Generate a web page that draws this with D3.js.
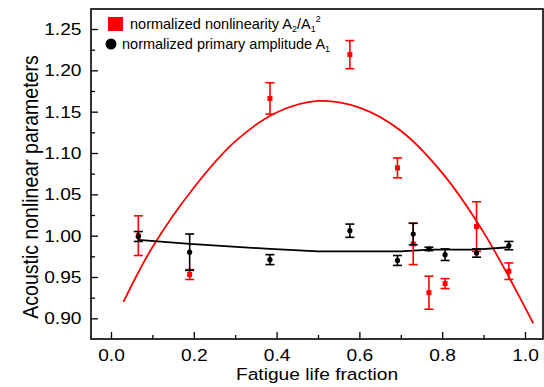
<!DOCTYPE html>
<html lang="en">
<head>
  <meta charset="UTF-8">
  <title>Acoustic nonlinear parameters vs fatigue life</title>
  <script src="https://d3js.org/d3.v7.min.js"></script>
  <style>
    body { margin: 0; background: #fff; }
    text { font-family: "Liberation Sans", Arial, sans-serif; fill: #000; }
  </style>
</head>
<body>
  <svg width="544" height="387"></svg>

  <script>
    // data
    const fraction = [0.066, 0.19, 0.384, 0.577, 0.692, 0.730, 0.768, 0.807, 0.883, 0.961];

    const nonlinearity    = [1.000, 0.953, 1.166, 1.219, 1.082, 0.990, 0.931, 0.942, 1.011, 0.957];
    const nonlinearityErr = [0.024, 0.006, 0.019, 0.017, 0.012, 0.025, 0.020, 0.006, 0.030, 0.010];

    const amplitude    = [0.999, 0.980, 0.971, 1.006, 0.970, 1.002, 0.984, 0.977, 0.979, 0.988];
    const amplitudeErr = [0.006, 0.022, 0.006, 0.008, 0.006, 0.013, 0.002, 0.007, 0.005, 0.005];

    // fitted curves, sampled from the drawn lines
    const redFitX = [0.03, 0.1, 0.2, 0.3, 0.4, 0.5, 0.6, 0.7, 0.8, 0.9, 1.02];
    const redFitY = [0.920, 0.986, 1.058, 1.114, 1.149, 1.163, 1.155, 1.127, 1.076, 1.004, 0.894];

    const blackFitX = [0.066, 0.19, 0.384, 0.5, 0.6, 0.7, 0.77, 0.88, 0.961];
    const blackFitY = [0.995, 0.990, 0.984, 0.981, 0.981, 0.981, 0.983, 0.983, 0.986];

    const xTicks = [0, 0.2, 0.4, 0.6, 0.8, 1.0];
    const yTicks = [0.90, 0.95, 1.00, 1.05, 1.10, 1.15, 1.20, 1.25];

    // the source image is a little stretched sideways
    const sx = 1.13;

    const svg = d3.select("svg");
    const margin = {top: 9, right: 1, bottom: 48, left: 91};
    const width = 544 - margin.left - margin.right,
          height = 387 - margin.top - margin.bottom;

    const g = svg.append("g").attr("transform", `translate(${margin.left},${margin.top})`);

    const x = d3.scaleLinear().domain([-0.0483, 1.0435]).range([0, width]);
    const y = d3.scaleLinear().domain([0.875, 1.2742]).range([height, 0]);

    // axes with inward ticks
    const xMinor = d3.range(0.1, 1.05, 0.2);
    const yMinor = d3.range(0.925, 1.27, 0.05);

    g.append("g")
      .attr("transform", `translate(0,${height})`)
      .call(d3.axisBottom(x).tickValues(xMinor).tickSize(-4).tickFormat(""))
      .call(a => a.select(".domain").remove());
    g.append("g")
      .attr("transform", `translate(0,${height})`)
      .call(d3.axisBottom(x).tickValues(xTicks).tickSize(-7).tickFormat(d3.format(".1f")))
      .call(a => a.select(".domain").remove())
      .call(a => a.selectAll("text")
        .attr("font-size", 17).attr("y", 22).attr("dy", null)
        .attr("transform", `scale(${sx},1)`));

    g.append("g")
      .call(d3.axisLeft(y).tickValues(yMinor).tickSize(-4).tickFormat(""))
      .call(a => a.select(".domain").remove());
    g.append("g")
      .call(d3.axisLeft(y).tickValues(yTicks).tickSize(-7).tickFormat(d3.format(".2f")))
      .call(a => a.select(".domain").remove())
      .call(a => a.selectAll("text")
        .attr("font-size", 17).attr("x", -9.5 / sx)
        .attr("transform", `scale(${sx},1)`));

    g.selectAll(".tick line").attr("stroke", "#000").attr("stroke-width", 1.3);

    // frame
    g.append("rect")
      .attr("width", width).attr("height", height)
      .attr("fill", "none").attr("stroke", "#000").attr("stroke-width", 1.6);

    // fit lines
    g.append("path")
      .datum(d3.zip(redFitX, redFitY))
      .attr("d", d3.line().x(d => x(d[0])).y(d => y(d[1])).curve(d3.curveCatmullRom))
      .attr("fill", "none").attr("stroke", "#f00").attr("stroke-width", 1.8);

    g.append("path")
      .datum(d3.zip(blackFitX, blackFitY))
      .attr("d", d3.line().x(d => x(d[0])).y(d => y(d[1])))
      .attr("fill", "none").attr("stroke", "#000").attr("stroke-width", 1.8);

    // error bars and markers
    function drawSeries(values, errs, color, shape) {
      const s = g.append("g");
      const pts = fraction.map((f, i) => ({f, v: values[i], e: errs[i]}));
      const bars = s.selectAll(".bar").data(pts).enter().append("g")
        .attr("stroke", color).attr("stroke-width", 1.6);
      bars.append("line")
        .attr("x1", d => x(d.f)).attr("x2", d => x(d.f))
        .attr("y1", d => y(d.v - d.e)).attr("y2", d => y(d.v + d.e));
      [-1, 1].forEach(sign => {
        bars.append("line")
          .attr("x1", d => x(d.f) - 4.5).attr("x2", d => x(d.f) + 4.5)
          .attr("y1", d => y(d.v + sign * d.e)).attr("y2", d => y(d.v + sign * d.e));
      });
      if (shape === "square") {
        s.selectAll(".mk").data(pts).enter().append("rect")
          .attr("x", d => x(d.f) - 2.5).attr("y", d => y(d.v) - 2.5)
          .attr("width", 5).attr("height", 5).attr("fill", color);
      } else {
        s.selectAll(".mk").data(pts).enter().append("circle")
          .attr("cx", d => x(d.f)).attr("cy", d => y(d.v))
          .attr("r", 2.6).attr("fill", color);
      }
    }
    drawSeries(nonlinearity, nonlinearityErr, "#f00", "square");
    drawSeries(amplitude, amplitudeErr, "#000", "circle");

    // legend
    const lg = svg.append("g");
    lg.append("rect").attr("x", 108).attr("y", 17).attr("width", 15).attr("height", 14).attr("fill", "#f00");
    const t1 = lg.append("text").attr("x", 130).attr("y", 29).attr("font-size", 14.5);
    t1.append("tspan").text("normalized nonlinearity A");
    t1.append("tspan").attr("font-size", 9).attr("dy", 3).text("2");
    t1.append("tspan").attr("dy", -3).text("/A");
    t1.append("tspan").attr("font-size", 9).attr("dy", 3).text("1");
    t1.append("tspan").attr("font-size", 9).attr("dy", -10).text("2");

    lg.append("circle").attr("cx", 111).attr("cy", 44).attr("r", 5.5).attr("fill", "#000");
    const t2 = lg.append("text").attr("x", 122).attr("y", 49).attr("font-size", 14.5);
    t2.append("tspan").text("normalized primary amplitude A");
    t2.append("tspan").attr("font-size", 9).attr("dy", 3).text("1");

    // axis titles
    svg.append("text")
      .attr("transform", `translate(317,380) scale(${sx},1)`)
      .attr("text-anchor", "middle").attr("font-size", 17)
      .text("Fatigue life fraction");

    svg.append("text")
      .attr("transform", `translate(38,187) scale(${sx},1) rotate(-90)`)
      .attr("text-anchor", "middle").attr("font-size", 19.5)
      .text("Acoustic nonlinear parameters");
  </script>
</body>
</html>
